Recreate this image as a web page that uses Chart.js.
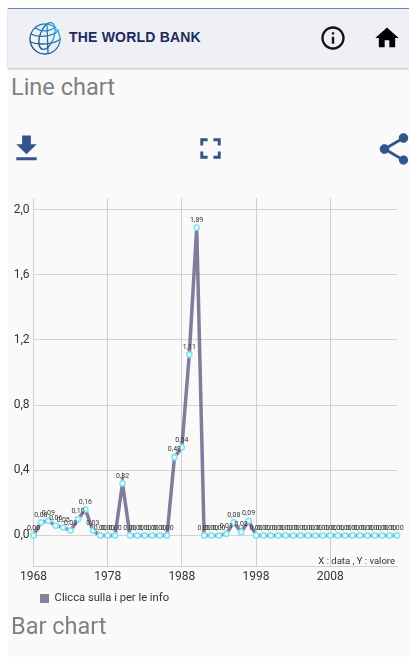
<!DOCTYPE html>
<html><head><meta charset="utf-8">
<script src="https://cdn.jsdelivr.net/npm/chart.js@4"></script>
<style>
html,body{margin:0;padding:0;background:#fff;overflow:hidden;width:409px;height:657px;font-family:Roboto,sans-serif}
#page{position:absolute;left:8px;top:8px;width:401px;height:649px;background:#fafafa}
#bar{position:absolute;left:8px;top:8px;width:401px;height:60px;background:#eef0f5;border-top:1px solid #6f7fc6;box-sizing:border-box;box-shadow:0 1px 2px #bbb}
.ic{position:absolute}
#brand{position:absolute;left:69px;top:29px;font:bold 14px "Liberation Sans",Arial,sans-serif;color:#1b2a5c;letter-spacing:.2px;white-space:nowrap}
.h{position:absolute;left:11px;font-size:23.5px;color:#808080;line-height:28px;white-space:nowrap}
#wrap{position:absolute;left:0;top:187px;width:409px;height:431px;filter:blur(.3px)}
</style></head><body>
<div id="page"></div><div id="bar"></div>
<svg class="ic" style="left:28px;top:22px" width="36" height="34" viewBox="0 0 36 34" fill="none">
<defs><linearGradient id="g" x1="0" y1="1" x2="1" y2="0"><stop offset="0" stop-color="#1b3a6b"/><stop offset=".6" stop-color="#1f78b4"/><stop offset="1" stop-color="#35c8ee"/></linearGradient></defs>
<g stroke="url(#g)" stroke-width="1.3"><circle cx="17" cy="17" r="15"/><ellipse cx="19" cy="14" rx="7" ry="14" transform="rotate(20 19 14)"/><path d="M3 12C10 16 24 15 31 8M2 20c8 3 22 3 31-3M7 6c7 4 14 4 21-1M19 2 20 32"/></g></svg>
<div id="brand">THE WORLD BANK</div>
<svg class="ic" style="left:319px;top:24px" width="28" height="28" viewBox="0 0 24 24" fill="#111"><path d="M11 7h2v2h-2zm0 4h2v6h-2zm1-9C6.48 2 2 6.48 2 12s4.48 10 10 10 10-4.48 10-10S17.52 2 12 2zm0 18c-4.41 0-8-3.59-8-8s3.59-8 8-8 8 3.59 8 8-3.59 8-8 8z"/></svg>
<svg class="ic" style="left:373px;top:24px" width="28" height="28" viewBox="0 0 24 24" fill="#000"><path d="M10 20v-6h4v6h5v-8h3L12 3 2 12h3v8z"/></svg>
<div class="h" style="top:73px">Line chart</div>
<svg class="ic" style="left:9px;top:131px" width="35" height="35" viewBox="0 0 24 24" fill="#33548a"><path d="M19 9h-4V3H9v6H5l7 7 7-7zM5 18v2h14v-2H5z"/></svg>
<svg class="ic" style="left:193px;top:131px" width="35" height="35" viewBox="0 0 24 24" fill="#33548a"><path d="M7 14H5v5h5v-2H7v-3zm-2-4h2V7h3V5H5v5zm12 7h-3v2h5v-5h-2v3zM14 5v2h3v3h2V5h-5z"/></svg>
<svg class="ic" style="left:375px;top:130px" width="38" height="38" viewBox="0 0 24 24" fill="#33548a"><path d="M18 16.08c-.76 0-1.44.3-1.96.77L8.91 12.7c.05-.23.09-.46.09-.7s-.04-.47-.09-.7l7.05-4.11c.54.5 1.25.81 2.04.81 1.66 0 3-1.34 3-3s-1.34-3-3-3-3 1.34-3 3c0 .24.04.47.09.7L8.04 9.81C7.5 9.31 6.79 9 6 9c-1.66 0-3 1.34-3 3s1.34 3 3 3c.79 0 1.5-.31 2.04-.81l7.12 4.16c-.05.21-.08.43-.08.65 0 1.61 1.31 2.92 2.92 2.92 1.61 0 2.92-1.31 2.92-2.92s-1.31-2.92-2.92-2.92z"/></svg>
<div id="wrap"><canvas id="c"></canvas></div>
<div class="h" style="top:612px">Bar chart</div>
<script>
const years = [1968,1969,1970,1971,1972,1973,1974,1975,1976,1977,1978,1979,1980,1981,1982,1983,1984,1985,1986,1987,1988,1989,1990,1991,1992,1993,1994,1995,1996,1997,1998,1999,2000,2001,2002,2003,2004,2005,2006,2007,2008,2009,2010,2011,2012,2013,2014,2015,2016,2017];
const values = [0,0.08,0.09,0.06,0.05,0.03,0.10,0.16,0.03,0,0,0,0.32,0,0,0,0,0,0,0.48,0.54,1.11,1.89,0,0,0,0.01,0.08,0.02,0.09,0,0,0,0,0,0,0,0,0,0,0,0,0,0,0,0,0,0,0,0];
const yearTicks = [1968,1978,1988,1998,2008];
const valueTicks = [0,0.4,0.8,1.2,1.6,2.0];
const seriesName = 'Clicca sulla i per le info';
const axisNote = 'X : data , Y : valore';
const comma = (v,d) => v.toFixed(d).replace('.',',');
const overlay = {
  id:'overlay',
  afterLayout(chart){ chart.legend.left += 18; chart.legend.top -= 4; },
  afterDatasetsDraw(chart){
    const {ctx,chartArea:a} = chart, meta = chart.getDatasetMeta(0);
    ctx.save();
    ctx.font = '7px Roboto'; ctx.fillStyle = '#333'; ctx.textAlign='center'; ctx.textBaseline='bottom';
    meta.data.forEach((p,i)=>ctx.fillText(comma(values[i],2),p.x,p.y-4));
    ctx.font = '9.5px Roboto'; ctx.fillStyle='#333'; ctx.textAlign='right'; ctx.textBaseline='bottom';
    ctx.fillText(axisNote,a.right-2,a.bottom);
    ctx.restore();
  }
};
new Chart(document.getElementById('c'),{
  type:'line',
  data:{labels:years,datasets:[{label:seriesName,data:values,borderColor:'rgba(102,96,136,.82)',backgroundColor:'#86829e',borderWidth:3.5,tension:0,
    pointRadius:2.5,pointBorderWidth:1.8,pointBorderColor:'#86e6f2',pointBackgroundColor:'#fff',clip:false}]},
  options:{responsive:true,maintainAspectRatio:false,animation:false,
    layout:{padding:{top:0,right:12,left:12,bottom:0}},
    plugins:{tooltip:{enabled:false},
      legend:{position:'bottom',align:'start',labels:{font:{family:'Roboto',size:11.2},color:'#333',boxWidth:9,boxHeight:9,padding:10,
        generateLabels:c=>Chart.defaults.plugins.legend.labels.generateLabels(c).map(l=>({...l,lineWidth:0}))}}},
    scales:{
      x:{type:'category',offset:false,
        grid:{color:c=>yearTicks.includes(years[c.index])?'#cfcfcf':'transparent',lineWidth:1,drawTicks:false},
        border:{color:'#cfcfcf'},
        ticks:{autoSkip:false,maxRotation:0,padding:3,font:{family:'Roboto',size:12},color:'#333',
          callback(v,i){const y=years[i];return yearTicks.includes(y)?String(y):'';}}},
      y:{min:-0.19,max:2.07,afterBuildTicks(s){s.ticks=valueTicks.map(value=>({value}));},
        grid:{color:'#d4d4d4',drawTicks:false},border:{color:'#cfcfcf'},
        afterFit(s){s.width=21.5;},
        ticks:{padding:4,font:{family:'Roboto',size:12},color:'#333',callback:v=>comma(v,1)}}
    }}
  ,plugins:[overlay]});
</script></body></html>
